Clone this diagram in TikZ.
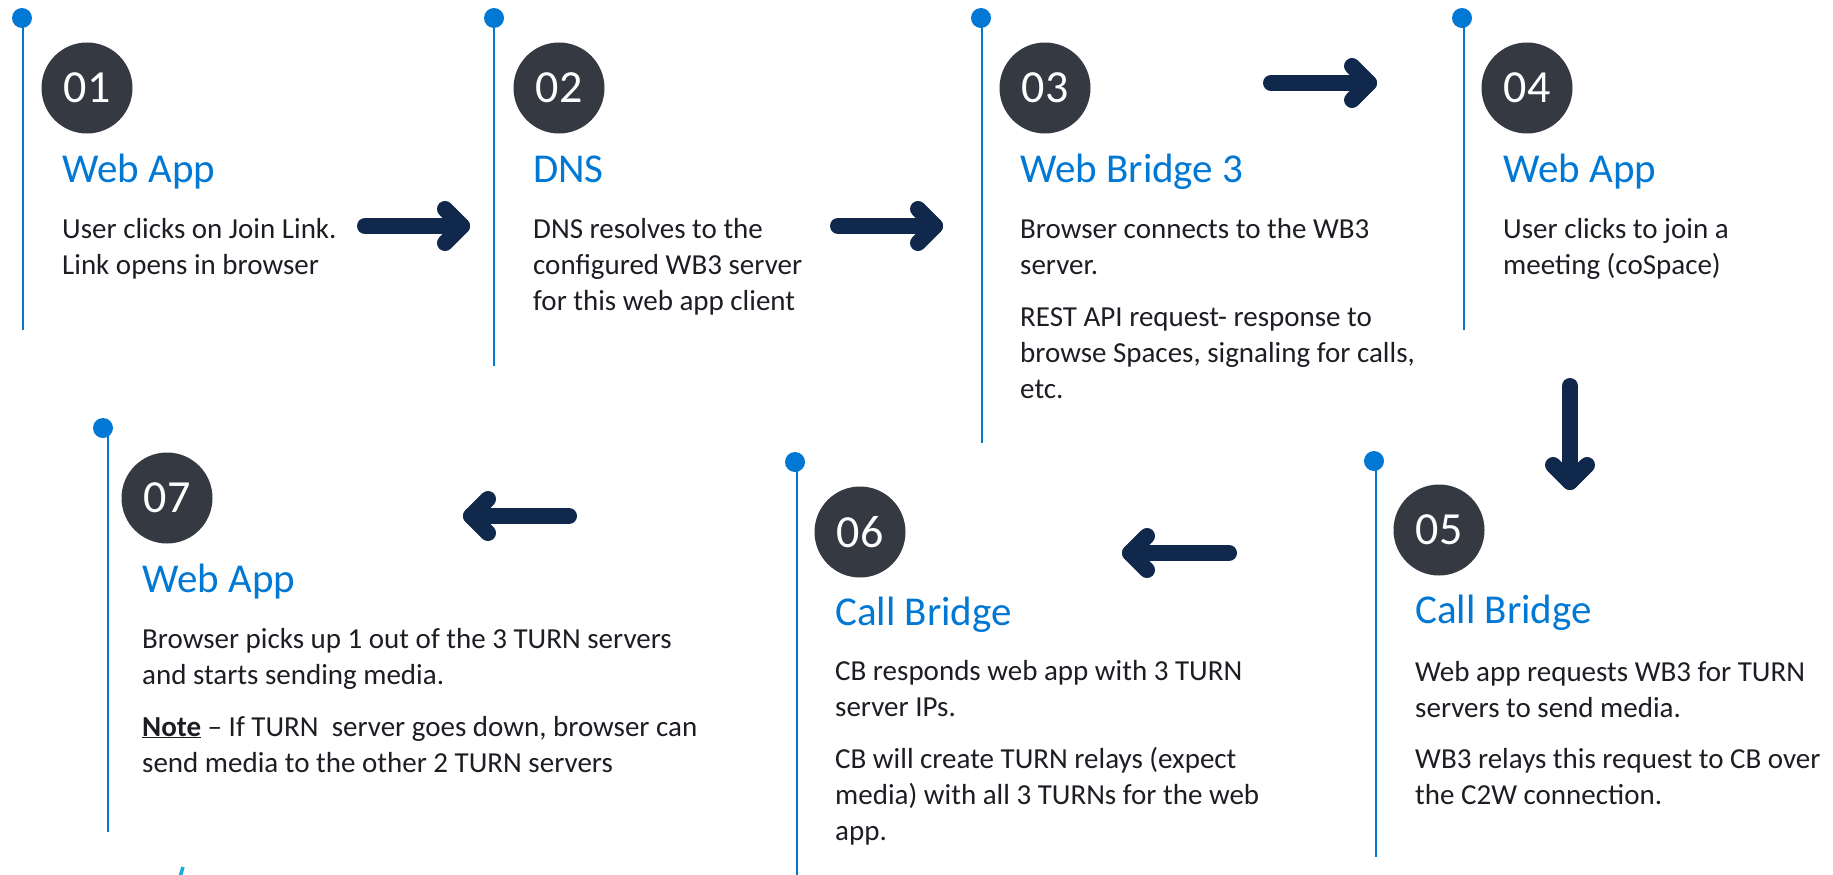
\documentclass[tikz,border=0pt]{standalone}
\usepackage{fontspec}
\setmainfont{Carlito}
\usetikzlibrary{calc}
\definecolor{cblue}{RGB}{0,120,212}
\definecolor{cdark}{RGB}{53,57,66}
\definecolor{cnavy}{RGB}{16,40,76}
\definecolor{ctext}{RGB}{28,30,36}
\definecolor{ccyan}{RGB}{20,170,230}
\begin{document}
\begin{tikzpicture}[x=1pt,y=-1pt,
  vline/.style={draw=cblue,line width=2.6pt},
  topdot/.style={circle,fill=cblue,minimum size=20pt,inner sep=0pt},
  numc/.style={circle,fill=cdark,minimum size=91pt,inner sep=0pt,text=white,font=\fontsize{46}{46}\selectfont},
  ttl/.style={anchor=base west,inner sep=0pt,text=cblue,font=\fontsize{41}{41}\selectfont},
  bodytxt/.style={anchor=base west,inner sep=0pt,align=left,text=ctext,font=\fontsize{29}{36}\selectfont},
  arr/.style={draw=cnavy,line width=16pt,line cap=round,line join=round}]
\useasboundingbox (0,0) rectangle (1833,875);
\fill[white] (0,0) rectangle (1833,875);

% ---- vertical timeline lines
\coordinate (l1t) at (23,18);   \coordinate (l1b) at (23,330);
\coordinate (l2t) at (494,18);  \coordinate (l2b) at (494,366);
\coordinate (l3t) at (982,18);  \coordinate (l3b) at (982,443);
\coordinate (l4t) at (1464,18); \coordinate (l4b) at (1464,330);
\coordinate (l5t) at (1376,461);\coordinate (l5b) at (1376,857);
\coordinate (l6t) at (797,462); \coordinate (l6b) at (797,875);
\coordinate (l7t) at (108,428); \coordinate (l7b) at (108,832);
\foreach \i in {1,...,7}{\draw[vline] (l\i t) -- (l\i b);}

% ---- top dots
\node[topdot] (d1) at (22,18) {};
\node[topdot] (d2) at (494,18) {};
\node[topdot] (d3) at (981,18) {};
\node[topdot] (d4) at (1462,18) {};
\node[topdot] (d5) at (1374,461) {};
\node[topdot] (d6) at (795,462) {};
\node[topdot] (d7) at (103,428) {};

% ---- number circles
\node[numc] (c1) at (87,88) {01};
\node[numc] (c2) at (559,88) {02};
\node[numc] (c3) at (1045,88) {03};
\node[numc] (c4) at (1527,88) {04};
\node[numc] (c5) at (1439,530) {05};
\node[numc] (c6) at (860,532) {06};
\node[numc] (c7) at (167,498) {07};

% ---- titles
\node[ttl] (t1) at (62,182) {Web App};
\node[ttl] (t2) at (533,182) {DNS};
\node[ttl] (t3) at (1020,182) {Web Bridge 3};
\node[ttl] (t4) at (1503,182) {Web App};
\node[ttl] (t5) at (1415,623) {Call Bridge};
\node[ttl] (t6) at (835,625) {Call Bridge};
\node[ttl] (t7) at (142,592) {Web App};

% ---- body texts (anchored at the baseline of their last line)
\node[bodytxt] (b1) at (62,274) {User clicks on Join Link.\\Link opens in browser};
\node[bodytxt] (b2) at (533,310) {DNS resolves to the\\configured WB3 server\\for this web app client};
\node[bodytxt] (b3) at (1020,398) {Browser connects to the WB3\\server.\\[16pt]REST API request- response to\\browse Spaces, signaling for calls,\\etc.};
\node[bodytxt] (b4) at (1503,274) {User clicks to join a\\meeting (coSpace)};
\node[bodytxt] (b5) at (1415,804) {Web app requests WB3 for TURN\\servers to send media.\\[15pt]WB3 relays this request to CB over\\the C2W connection.};
\node[bodytxt] (b6) at (835,840) {CB responds web app with 3 TURN\\server IPs.\\[16pt]CB will create TURN relays (expect\\media) with all 3 TURNs for the web\\app.};
\node[bodytxt] (b7) at (142,772) {Browser picks up 1 out of the 3 TURN servers\\and starts sending media.\\[16pt]\textbf{\underline{Note}} -- If TURN\ \ server goes down, browser can\\send media to the other 2 TURN servers};

% ---- arrows
\coordinate (a1s) at (365,226);  \coordinate (a1e) at (462,226);
\coordinate (a2s) at (838,226);  \coordinate (a2e) at (935,226);
\coordinate (a3s) at (1271,83);  \coordinate (a3e) at (1369,83);
\coordinate (a4s) at (1570,386); \coordinate (a4e) at (1570,482);
\coordinate (a5s) at (1229,553); \coordinate (a5e) at (1130,553);
\coordinate (a6s) at (569,516);  \coordinate (a6e) at (471,516);
\foreach \i in {1,2,3}{
  \draw[arr] (a\i s) -- (a\i e);
  \draw[arr] ($(a\i e)+(-17,-17)$) -- (a\i e) -- ($(a\i e)+(-17,17)$);
}
\draw[arr] (a4s) -- (a4e);
\draw[arr] ($(a4e)+(-17,-17)$) -- (a4e) -- ($(a4e)+(17,-17)$);
\foreach \i in {5,6}{
  \draw[arr] (a\i s) -- (a\i e);
  \draw[arr] ($(a\i e)+(17,-17)$) -- (a\i e) -- ($(a\i e)+(17,17)$);
}

% ---- small cyan mark at the bottom edge
\draw[ccyan,line width=3.5pt] (180,877) -- (183,867);
\end{tikzpicture}
\end{document}
